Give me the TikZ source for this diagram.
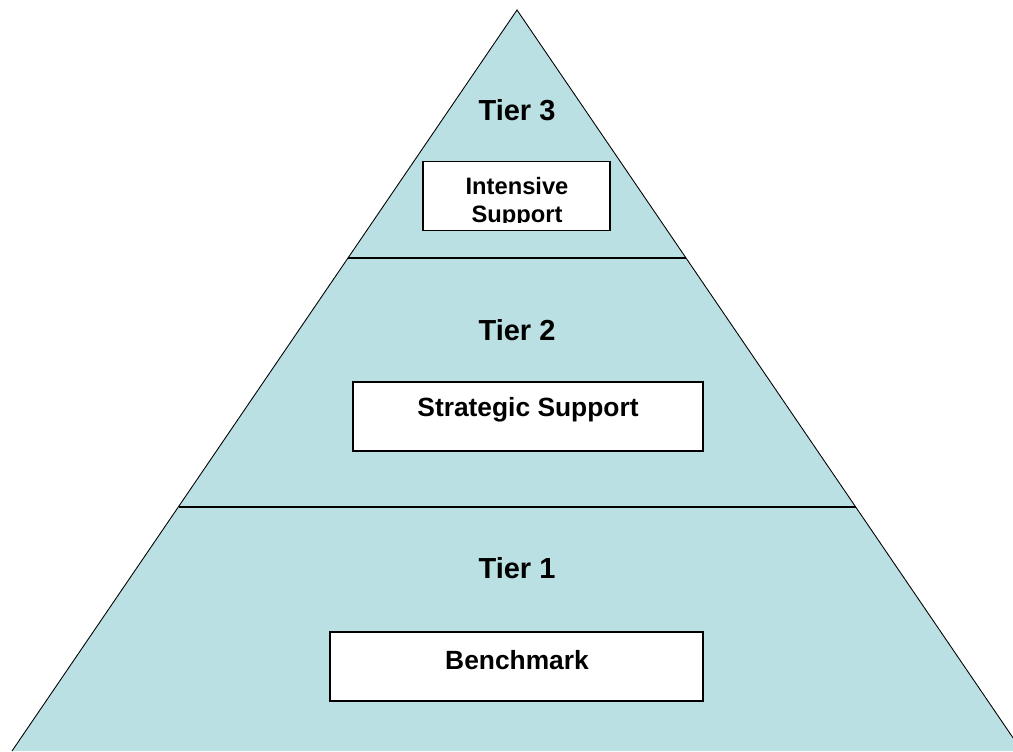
\documentclass[tikz,border=0pt]{standalone}
\usepackage{fontspec}
\setmainfont{Liberation Sans}
\definecolor{tierblue}{RGB}{187,224,227}
\tikzset{
  tierlabel/.style={font=\fontsize{16.5}{19}\selectfont\bfseries, inner sep=0pt},
  tierbox/.style={draw=black, line width=0.9pt, fill=white, inner sep=0pt},
  boxtext/.style={font=\fontsize{15}{17}\selectfont\bfseries, inner sep=0pt},
}
\begin{document}
\begin{tikzpicture}[x=0.02cm, y=-0.02cm]
\useasboundingbox (0,0) rectangle (1013,751);

% pyramid
\fill[tierblue] (517,10) -- (12,751) -- (1022,751) -- cycle;
\draw[line width=0.5pt] (12,751) -- (517,10) -- (1022,751);
\draw[line width=0.9pt] (348,258) -- (686,258);
\draw[line width=0.9pt] (178.5,507) -- (855.5,507);

% tier labels
\node[tierlabel] (tier3) at (517,110) {Tier 3};
\node[tierlabel] (tier2) at (517,330) {Tier 2};
\node[tierlabel] (tier1) at (517,568) {Tier 1};

% boxes
\node[tierbox, minimum width=187*0.02cm, minimum height=69*0.02cm] (intensive) at (516.5,196) {};
\begin{scope}
\clip (424,162) rectangle (609,222.5);
\node[boxtext, font=\fontsize{13.5}{16}\selectfont\bfseries, anchor=base] (intensivetext) at (517,194) {Intensive};
\node[boxtext, font=\fontsize{13.5}{16}\selectfont\bfseries, anchor=base] (supporttext) at (517,222) {Support};
\end{scope}
\node[tierbox, minimum width=350*0.02cm, minimum height=69*0.02cm] (strategic) at (528,416.5) {};
\node[boxtext] (strategictext) at (528,410) {Strategic Support};
\node[tierbox, minimum width=373*0.02cm, minimum height=69*0.02cm] (benchmark) at (516.5,666.5) {};
\node[boxtext] (benchmarktext) at (517,660) {Benchmark};

\end{tikzpicture}
\end{document}
